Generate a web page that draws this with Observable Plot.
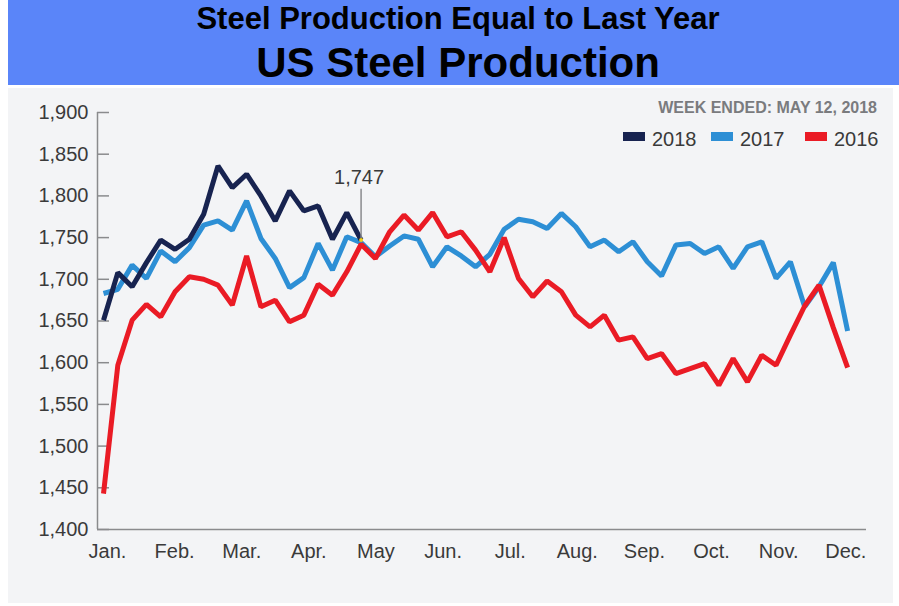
<!DOCTYPE html>
<html>
<head>
<meta charset="utf-8">
<script src="https://cdn.jsdelivr.net/npm/d3@7"></script>
<script src="https://cdn.jsdelivr.net/npm/@observablehq/plot@0.6"></script>
<style>
  body { margin: 0; background: #ffffff; font-family: "Liberation Sans", Arial, sans-serif; }
  #wrap { position: relative; width: 899px; height: 606px; overflow: hidden; }
  #banner { position: absolute; left: 8px; top: 0; width: 891px; height: 85px; background: #5a85f9; }
  .t1 { position: absolute; left: 8px; width: 900px; text-align: center; font-weight: 700; color: #000; white-space: nowrap; }
  #panel { position: absolute; left: 8px; top: 88px; width: 885px; height: 515px; background: #f3f4f6; }
  #chart { position: absolute; left: 8px; top: 88px; }
  .lg { position: absolute; white-space: nowrap; }
</style>
</head>
<body>
<div id="wrap">
  <div id="banner"></div>
  <div class="t1" style="top:3px;font-size:31px;line-height:31px;">Steel Production Equal to Last Year</div>
  <div class="t1" style="top:42px;font-size:42px;line-height:42px;">US Steel Production</div>
  <div id="panel"></div>
  <div id="chart"></div>
  <div class="lg" style="right:22px;top:100px;font-size:16px;line-height:16px;font-weight:700;color:#7a7b7e;">WEEK ENDED: MAY 12, 2018</div>
  <div id="legend"></div>
</div>
<script>
// ---- data ----
const months = ["Jan.", "Feb.", "Mar.", "Apr.", "May", "Jun.", "Jul.", "Aug.", "Sep.", "Oct.", "Nov.", "Dec."];
const yTicks = [1400, 1450, 1500, 1550, 1600, 1650, 1700, 1750, 1800, 1850, 1900];
const seriesNames = ["2018", "2017", "2016"];
const seriesColors = ["#172350", "#2d8fd5", "#ea1b25"];

// weekly production (thousand net tons), one value per week
const v2018 = [1651, 1708, 1691, 1720, 1747, 1736, 1748, 1778, 1836, 1810, 1826, 1800, 1770, 1806, 1782, 1788, 1748, 1780, 1747];
const v2017 = [1683, 1688, 1717, 1701, 1734, 1721, 1738, 1765, 1770, 1759, 1794, 1749, 1725, 1690, 1702, 1743, 1711, 1751, 1744,
               1727, 1740, 1752, 1748, 1715, 1739, 1728, 1715, 1730, 1760, 1772, 1769, 1761, 1779, 1763, 1739, 1747, 1733,
               1745, 1721, 1704, 1741, 1743, 1731, 1739, 1713, 1739, 1745, 1701, 1721, 1667, 1691, 1720, 1638];
const v2016 = [1443, 1597, 1651, 1670, 1655, 1685, 1703, 1700, 1693, 1669, 1728, 1667, 1675, 1649, 1657, 1694, 1681, 1709, 1742,
               1725, 1757, 1777, 1759, 1780, 1751, 1757, 1735, 1709, 1750, 1701, 1679, 1698, 1685, 1657, 1643, 1657, 1627,
               1631, 1605, 1611, 1587, 1593, 1599, 1573, 1605, 1577, 1609, 1597, 1633, 1668, 1693, 1642, 1594];
const annotationLabel = "1,747";

// ---- build tables ----
const toRows = (arr, name) => arr.map((v, i) => ({week: i, value: v, series: name}));
const r2018 = toRows(v2018, "2018");
const r2017 = toRows(v2017, "2017");
const r2016 = toRows(v2016, "2016");
const last2018 = r2018[r2018.length - 1];

const xDomain = [-0.42, 53.32];
const monthTicks = months.map((m, i) => 0.28 + i * 4.69);
const tickLen = 0.84; // inner y-tick length, in week units

const axisGray = "#8a8b8d";
const textColor = "#3a3a3a";

const chart = Plot.plot({
  width: 885,
  height: 515,
  marginLeft: 89,
  marginRight: 27,
  marginTop: 24,
  marginBottom: 74,
  style: {background: "transparent", fontSize: "20px", fontFamily: "'Liberation Sans', Arial, sans-serif", color: textColor},
  x: {domain: xDomain},
  y: {domain: [1400, 1900]},
  marks: [
    Plot.ruleY(yTicks, {x1: xDomain[0], x2: xDomain[0] + tickLen, stroke: axisGray, strokeWidth: 1.5}),
    Plot.ruleX([xDomain[0]], {y1: 1400, y2: 1900, stroke: axisGray, strokeWidth: 1.5}),
    Plot.ruleY([1400], {x1: xDomain[0], x2: xDomain[1], stroke: axisGray, strokeWidth: 1.5}),
    Plot.axisY({ticks: yTicks, tickSize: 0, tickPadding: 9, tickFormat: d3.format(","), label: null, fill: textColor}),
    Plot.axisX({ticks: monthTicks, tickSize: 0, tickPadding: 14, tickFormat: (d, i) => months[i], label: null, fill: textColor}),
    Plot.line(r2017, {x: "week", y: "value", stroke: seriesColors[1], strokeWidth: 5, strokeLinejoin: "miter", strokeLinecap: "butt"}),
    Plot.line(r2016, {x: "week", y: "value", stroke: seriesColors[2], strokeWidth: 5, strokeLinejoin: "miter", strokeLinecap: "butt"}),
    Plot.line(r2018, {x: "week", y: "value", stroke: seriesColors[0], strokeWidth: 5, strokeLinejoin: "miter", strokeLinecap: "butt"}),
    Plot.ruleX([last2018], {x: "week", y1: d => d.value + 2, y2: d => d.value + 61, stroke: "#8a8b8d", strokeWidth: 1.5}),
    Plot.dot([last2018], {x: "week", y: "value", r: 2, fill: "#f2cf1a", stroke: "none"}),
    Plot.text([last2018], {x: "week", y: "value", text: () => annotationLabel, dy: -63, dx: -2, fill: textColor, fontSize: 20})
  ]
});
document.getElementById("chart").appendChild(chart);

// ---- legend ----
const legend = document.getElementById("legend");
const swX = [623, 711, 805];
seriesNames.forEach((name, i) => {
  const sw = document.createElement("div");
  sw.className = "lg";
  sw.style.cssText = `left:${swX[i]}px;top:132px;width:22px;height:9px;background:${seriesColors[i]};`;
  legend.appendChild(sw);
  const tx = document.createElement("div");
  tx.className = "lg";
  tx.textContent = name;
  tx.style.cssText = `left:${swX[i] + 29}px;top:129px;font-size:20px;line-height:20px;color:${textColor};`;
  legend.appendChild(tx);
});
</script>
</body>
</html>
